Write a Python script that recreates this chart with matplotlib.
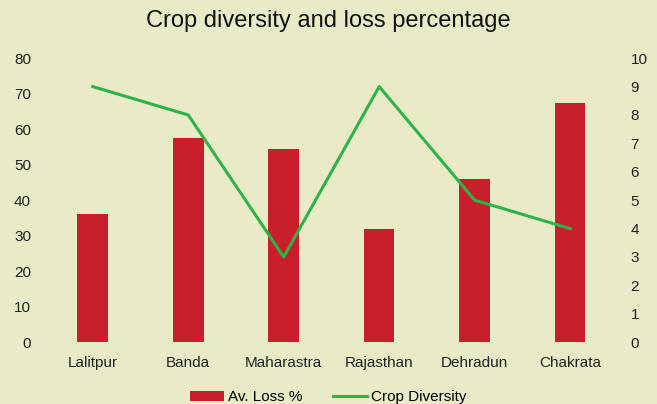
import matplotlib
matplotlib.use("Agg")
import matplotlib.pyplot as plt

plt.rcParams['font.family'] = ['Liberation Sans', 'DejaVu Sans']

places = ["Lalitpur", "Banda", "Maharastra", "Rajasthan", "Dehradun", "Chakrata"]
avg_loss = [36, 57.5, 54.5, 32, 46, 67.3]
crop_diversity = [9, 8, 3, 9, 5, 4]

bg = "#e9eac6"
bar_color = "#c91f2a"
line_color = "#2db34a"

fig = plt.figure(figsize=(6.57, 4.04), dpi=100, facecolor=bg)
ax = fig.add_axes([0.0685, 0.153, 0.872, 0.703], facecolor=bg)
ax2 = ax.twinx()

x = range(len(places))
bars = ax.bar(x, avg_loss, width=0.32, color=bar_color, label="Av. Loss %")
line, = ax2.plot(x, crop_diversity, color=line_color, linewidth=2.2, label="Crop Diversity")

ax.set_ylim(0, 80)
ax.set_yticks(range(0, 81, 10))
ax2.set_ylim(0, 10)
ax2.set_yticks(range(0, 11))
ax.set_xlim(-0.5, len(places) - 0.5)
ax.set_xticks(list(x))
ax.set_xticklabels(places)

for a in (ax, ax2):
    for s in a.spines.values():
        s.set_visible(False)
    a.tick_params(length=0, labelsize=11, colors="#222222")
ax.tick_params(axis="y", pad=10)
ax2.tick_params(axis="y", pad=9)
ax.tick_params(axis="x", pad=10)

fig.suptitle("Crop diversity and loss percentage", y=0.975, fontsize=17, color="#111111")
fig.legend([bars, line], ["Av. Loss %", "Crop Diversity"], loc="lower center",
           bbox_to_anchor=(0.5, -0.035), ncol=2, frameon=False, fontsize=11,
           handlelength=2.2, columnspacing=2.0, handletextpad=0.3)

fig.savefig("out.png", dpi=100, facecolor=bg)
